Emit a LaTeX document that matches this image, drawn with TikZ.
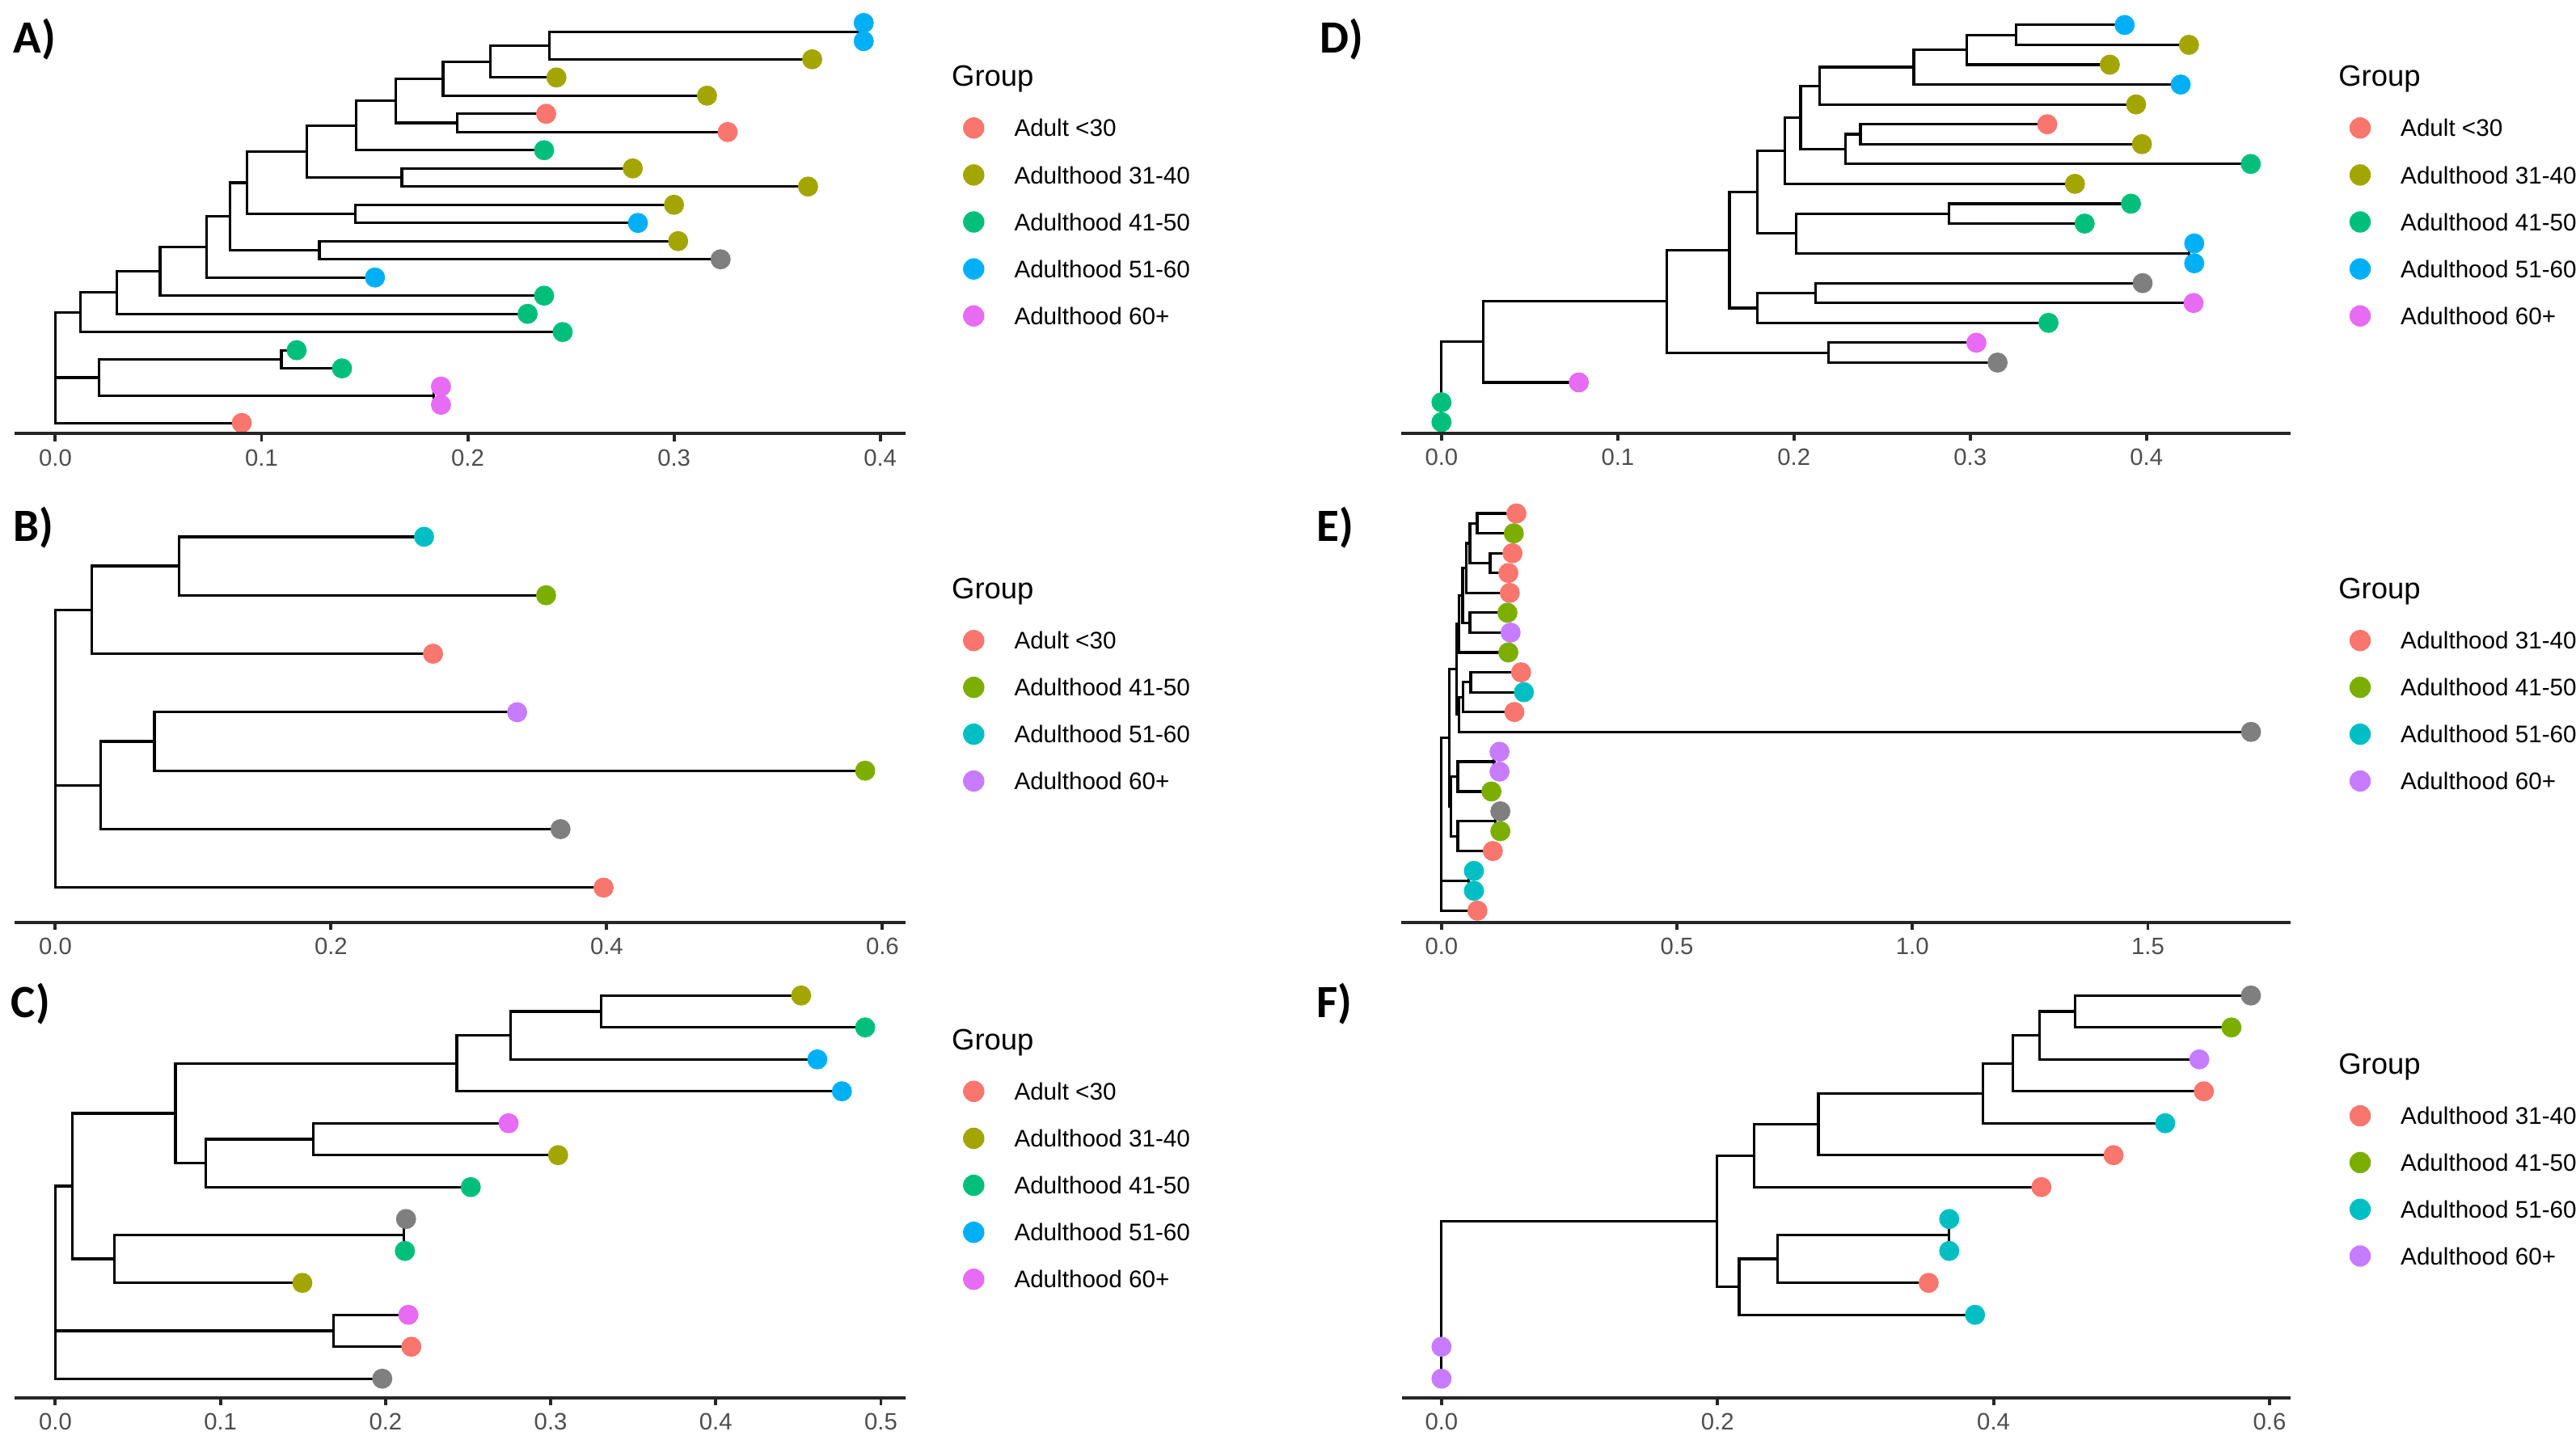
\documentclass[tikz,border=0pt]{standalone}
\usepackage{fontspec}
\setmainfont{Liberation Sans}
\newfontfamily\panelfont{Carlito}
\usetikzlibrary{positioning}

\definecolor{cRed}{HTML}{F8766D}
\definecolor{cOlive}{HTML}{A3A500}
\definecolor{cGreen}{HTML}{00BF7D}
\definecolor{cBlue}{HTML}{00B0F6}
\definecolor{cPink}{HTML}{E76BF3}
\definecolor{cLime}{HTML}{7CAE00}
\definecolor{cCyan}{HTML}{00BFC4}
\definecolor{cViolet}{HTML}{C77CFF}
\definecolor{cNA}{HTML}{7F7F7F}
\definecolor{tickgrey}{HTML}{4D4D4D}

\begin{document}
\begin{tikzpicture}[x=0.02cm, y=-0.02cm,
  branch/.style = {line width=0.9pt, black},
  axisline/.style = {line width=1.1pt, black!85},
  leafdot/.style = {circle, fill=#1, inner sep=0pt, minimum size=0.245cm},
  legdot/.style = {circle, fill=#1, inner sep=0pt, minimum size=0.26cm},
  ticklab/.style = {anchor=base, yshift=-0.39cm, inner sep=0pt, text=tickgrey, font=\fontsize{8.2}{10}\selectfont},
  legtitle/.style = {anchor=base west, inner sep=0pt, font=\fontsize{10.2}{12}\selectfont},
  legtext/.style = {inner sep=0pt, font=\fontsize{8.3}{10}\selectfont},
  panellab/.style = {anchor=base west, inner sep=0pt, font=\panelfont\bfseries\fontsize{16}{18}\selectfont}]
\useasboundingbox (0,0) rectangle (1568,878.5);

% panel letters
\node[panellab] (labA) at (7.8,32.2) {A)};
\node[panellab] (labB) at (7.8,329.5) {B)};
\node[panellab] (labC) at (6.5,619.2) {C)};
\node[panellab] (labD) at (803.1,32.2) {D)};
\node[panellab] (labE) at (801.1,329.5) {E)};
\node[panellab] (labF) at (801.1,619.2) {F)};

% A) tree
\begin{scope}[shift={(0.674cm,-0.0576cm)}, x=25.11cm, y=-0.2214cm]
\def\leavesA{1/0.392/cBlue, 2/0.392/cBlue, 3/0.367/cOlive, 4/0.243/cOlive, 5/0.316/cOlive, 6/0.238/cRed, 7/0.326/cRed, 8/0.237/cGreen, 9/0.280/cOlive, 10/0.365/cOlive, 11/0.300/cOlive, 12/0.2825/cBlue, 13/0.302/cOlive, 14/0.3226/cNA, 15/0.155/cBlue, 16/0.237/cGreen, 17/0.229/cGreen, 18/0.246/cGreen, 19/0.117/cGreen, 20/0.139/cGreen, 21/0.187/cPink, 22/0.187/cPink, 23/0.0904/cRed}
\foreach \n/\x/\col in \leavesA \coordinate (a\n) at (\x,\n);
\foreach \n/\x/\y in {n1/0.390/1.5, n2/0.2395/2.25, n3/0.211/3.125, n4/0.188/4.0625, n5/0.195/6.5, n6/0.165/5.281, n7/0.146/6.641, n8/0.168/9.5, n9/0.122/8.070, n10/0.1455/11.5, n11/0.093/9.785, n12/0.128/13.5, n13/0.0847/11.643, n14/0.0734/13.321, n15/0.0508/14.661, n16/0.0297/15.830, n17/0.0121/16.915, n18/0.1096/19.5, n19/0.1836/21.5, n20/0.0212/20.5, root/0/20.14}
  \coordinate (a\n) at (\x,\y);
\foreach \p/\c in {root/n17, root/n20, root/23, n17/n16, n17/18, n16/n15, n16/17, n15/n14, n15/16, n14/n13, n14/15, n13/n11, n13/n12, n12/13, n12/14, n11/n9, n11/n10, n10/11, n10/12, n9/n7, n9/n8, n8/9, n8/10, n7/n6, n7/8, n6/n4, n6/n5, n5/6, n5/7, n4/n3, n4/5, n3/n2, n3/4, n2/n1, n2/3, n1/1, n1/2, n20/n18, n20/n19, n18/19, n18/20, n19/21, n19/22}
  \draw[branch] (a\p) |- (a\c);
\foreach \n/\x/\col in \leavesA \node[leafdot=\col] (da\n) at (a\n) {};
\draw[axisline] (-0.0198,23.59) -- (0.4124,23.59);
\foreach \tk [count=\i] in {0.0,0.1,0.2,0.3,0.4} {
  \draw[axisline] (\tk,23.59) -- ++(0,-0.09cm);
  \node[ticklab] (tka\i) at (\tk,23.59) {\tk};
}
\end{scope}

% B) tree
\begin{scope}[shift={(0.674cm,-5.824cm)}, x=16.784cm, y=-0.712cm]
\def\leavesB{1/0.2675/cCyan, 2/0.356/cLime, 3/0.274/cRed, 4/0.335/cViolet, 5/0.5875/cLime, 6/0.3665/cNA, 7/0.3977/cRed}
\foreach \n/\x/\col in \leavesB \coordinate (b\n) at (\x,\n);
\foreach \n/\x/\y in {n1/0.090/1.5, n2/0.0262/2.25, n3/0.0719/4.5, n4/0.033/5.25, root/0/4.833}
  \coordinate (b\n) at (\x,\y);
\foreach \p/\c in {root/n2, root/n4, root/7, n2/n1, n2/3, n1/1, n1/2, n4/n3, n4/6, n3/4, n3/5}
  \draw[branch] (b\p) |- (b\c);
\foreach \n/\x/\col in \leavesB \node[leafdot=\col] (db\n) at (b\n) {};
\draw[axisline] (-0.0296,7.598) -- (0.617,7.598);
\foreach \tk [count=\i] in {0.0,0.2,0.4,0.6} {
  \draw[axisline] (\tk,7.598) -- ++(0,-0.09cm);
  \node[ticklab] (tkb\i) at (\tk,7.598) {\tk};
}
\end{scope}

% C) tree
\begin{scope}[shift={(0.674cm,-11.733cm)}, x=20.104cm, y=-0.3888cm]
\def\leavesC{1/0.4517/cOlive, 2/0.4905/cGreen, 3/0.4615/cBlue, 4/0.4764/cBlue, 5/0.2745/cPink, 6/0.3045/cOlive, 7/0.2516/cGreen, 8/0.2124/cNA, 9/0.2117/cGreen, 10/0.1496/cOlive, 11/0.2138/cPink, 12/0.2156/cRed, 13/0.198/cNA}
\foreach \n/\x/\col in \leavesC \coordinate (c\n) at (\x,\n);
\foreach \n/\x/\y in {n1/0.3306/1.5, n2/0.2756/2.25, n3/0.2431/3.125, n4/0.1563/5.5, n5/0.091/6.25, n6/0.0727/4.6875, n7/0.211/8.5, n8/0.0356/9.25, n9/0.0102/6.969, n10/0.1683/11.5, root/0/10.49}
  \coordinate (c\n) at (\x,\y);
\foreach \p/\c in {root/n9, root/n10, root/13, n9/n6, n9/n8, n6/n3, n6/n5, n3/n2, n3/4, n2/n1, n2/3, n1/1, n1/2, n5/n4, n5/7, n4/5, n4/6, n8/n7, n8/10, n7/8, n7/9, n10/11, n10/12}
  \draw[branch] (c\p) |- (c\c);
\foreach \n/\x/\col in \leavesC \node[leafdot=\col] (dc\n) at (c\n) {};
\draw[axisline] (-0.0247,13.593) -- (0.5151,13.593);
\foreach \tk [count=\i] in {0.0,0.1,0.2,0.3,0.4,0.5} {
  \draw[axisline] (\tk,13.593) -- ++(0,-0.09cm);
  \node[ticklab] (tkc\i) at (\tk,13.593) {\tk};
}
\end{scope}

% D) tree
\begin{scope}[shift={(17.552cm,-0.0622cm)}, x=21.46cm, y=-0.2418cm]
\def\leavesD{1/0.3876/cBlue, 2/0.4241/cOlive, 3/0.3792/cOlive, 4/0.4194/cBlue, 5/0.3941/cOlive, 6/0.3437/cRed, 7/0.3974/cOlive, 8/0.4592/cGreen, 9/0.3594/cOlive, 10/0.3912/cGreen, 11/0.3649/cGreen, 12/0.4271/cBlue, 13/0.4271/cBlue, 14/0.3978/cNA, 15/0.4267/cPink, 16/0.3444/cGreen, 17/0.3035/cPink, 18/0.3155/cNA, 19/0.0779/cPink, 20/0/cGreen, 21/0/cGreen}
\foreach \n/\x/\col in \leavesD \coordinate (d\n) at (\x,\n);
\foreach \n/\x/\y in {n1/0.3261/1.5, n2/0.298/2.25, n3/0.268/3.125, n4/0.2146/4.0625, n5/0.2377/6.5, n6/0.2293/7.25, n7/0.2037/5.656, n8/0.1949/7.328, n9/0.2878/10.5, n10/0.4241/12.5, n11/0.2011/11.5, n12/0.1792/9.414, n13/0.2121/14.5, n14/0.1792/15.25, n15/0.1634/12.332, n16/0.2194/17.5, n17/0.128/14.916, n18/0.0238/16.958, n19/0/20.5, root/0/18.73}
  \coordinate (d\n) at (\x,\y);
\foreach \p/\c in {root/n18, root/n19, n19/20, n19/21, n18/n17, n18/19, n17/n15, n17/n16, n16/17, n16/18, n15/n12, n15/n14, n14/n13, n14/16, n13/14, n13/15, n12/n8, n12/n11, n11/n9, n11/n10, n10/12, n10/13, n9/10, n9/11, n8/n7, n8/9, n7/n4, n7/n6, n6/n5, n6/8, n5/6, n5/7, n4/n3, n4/5, n3/n2, n3/4, n2/n1, n2/3, n1/1, n1/2}
  \draw[branch] (d\p) |- (d\c);
\foreach \n/\x/\col in \leavesD \node[leafdot=\col] (dd\n) at (d\n) {};
\draw[axisline] (-0.0227,21.57) -- (0.4819,21.57);
\foreach \tk [count=\i] in {0.0,0.1,0.2,0.3,0.4} {
  \draw[axisline] (\tk,21.57) -- ++(0,-0.09cm);
  \node[ticklab] (tkd\i) at (\tk,21.57) {\tk};
}
\end{scope}

% E) tree
\begin{scope}[shift={(17.552cm,-6.0102cm)}, x=5.734cm, y=-0.2418cm]
\def\leavesE{1/0.159/cRed, 2/0.1535/cLime, 3/0.1507/cRed, 4/0.142/cRed, 5/0.145/cRed, 6/0.140/cLime, 7/0.1467/cViolet, 8/0.142/cLime, 9/0.169/cRed, 10/0.175/cCyan, 11/0.1547/cRed, 12/1.719/cNA, 13/0.1232/cViolet, 14/0.1232/cViolet, 15/0.106/cLime, 16/0.125/cNA, 17/0.125/cLime, 18/0.109/cRed, 19/0.0689/cCyan, 20/0.0689/cCyan, 21/0.0763/cRed}
\foreach \n/\x/\col in \leavesE \coordinate (e\n) at (\x,\n);
\foreach \n/\x/\y in {n1/0.0757/1.5, n2/0.1032/3.5, n3/0.0603/2.5, n4/0.052/3.75, n5/0.0603/6.5, n6/0.0449/5.125, n7/0.0374/6.5625, n8/0.0621/9.5, n9/0.046/10.25, n10/0.0374/11.125, n11/0.0317/8.844, n12/0.1118/13.5, n13/0.0345/14.25, n14/0.1147/16.5, n15/0.0345/17.25, n16/0.0203/15.75, n17/0.0163/12.297, n18/0.0575/19.5, root/0/17.6}
  \coordinate (e\n) at (\x,\y);
\foreach \p/\c in {root/n17, root/n18, root/21, n18/19, n18/20, n17/n11, n17/n16, n16/n13, n16/n15, n15/n14, n15/18, n14/16, n14/17, n13/n12, n13/15, n12/13, n12/14, n11/n7, n11/n10, n10/n9, n10/12, n9/n8, n9/11, n8/9, n8/10, n7/n6, n7/8, n6/n4, n6/n5, n5/6, n5/7, n4/n3, n4/5, n3/n1, n3/n2, n2/3, n2/4, n1/1, n1/2}
  \draw[branch] (e\p) |- (e\c);
\foreach \n/\x/\col in \leavesE \node[leafdot=\col] (de\n) at (e\n) {};
\draw[axisline] (-0.0848,21.60) -- (1.8036,21.60);
\foreach \tk [count=\i] in {0.0,0.5,1.0,1.5} {
  \draw[axisline] (\tk,21.60) -- ++(0,-0.09cm);
  \node[ticklab] (tke\i) at (\tk,21.60) {\tk};
}
\end{scope}

% F) tree
\begin{scope}[shift={(17.552cm,-11.733cm)}, x=16.804cm, y=-0.3888cm]
\def\leavesF{1/0.5865/cNA, 2/0.5724/cLime, 3/0.5491/cViolet, 4/0.5524/cRed, 5/0.5244/cCyan, 6/0.487/cRed, 7/0.4347/cRed, 8/0.3679/cCyan, 9/0.3679/cCyan, 10/0.353/cRed, 11/0.3866/cCyan, 12/0/cViolet, 13/0/cViolet}
\foreach \n/\x/\col in \leavesF \coordinate (f\n) at (\x,\n);
\foreach \n/\x/\y in {n1/0.459/1.5, n2/0.4333/2.25, n3/0.4142/3.125, n4/0.3922/4.0625, n5/0.2731/5.03, n6/0.2265/6.016, n7/0.3675/8.5, n8/0.2437/9.25, n9/0.2157/10.125, n10/0.1994/8.07, n11/0/12.5, root/0/10.29}
  \coordinate (f\n) at (\x,\y);
\foreach \p/\c in {root/n10, root/n11, n11/12, n11/13, n10/n6, n10/n9, n9/n8, n9/11, n8/n7, n8/10, n7/8, n7/9, n6/n5, n6/7, n5/n4, n5/6, n4/n3, n4/5, n3/n2, n3/4, n2/n1, n2/3, n1/1, n1/2}
  \draw[branch] (f\p) |- (f\c);
\foreach \n/\x/\col in \leavesF \node[leafdot=\col] (df\n) at (f\n) {};
\draw[axisline] (-0.0289,13.593) -- (0.6154,13.593);
\foreach \tk [count=\i] in {0.0,0.2,0.4,0.6} {
  \draw[axisline] (\tk,13.593) -- ++(0,-0.09cm);
  \node[ticklab] (tkf\i) at (\tk,13.593) {\tk};
}
\end{scope}

% legends
\node[legtitle] (grpA) at (579,52.5) {Group};
\foreach \col/\lab [count=\i] in {cRed/Adult <30, cOlive/Adulthood 31-40, cGreen/Adulthood 41-50, cBlue/Adulthood 51-60, cPink/Adulthood 60+} {
  \node[legdot=\col] (keyA\i) at (592.7,{77.9+28.6*(\i-1)}) {};
  \node[legtext, right=0.35cm of keyA\i] (txtA\i) {\lab};
}
\node[legtitle] (grpB) at (579,364.6) {Group};
\foreach \col/\lab [count=\i] in {cRed/Adult <30, cLime/Adulthood 41-50, cCyan/Adulthood 51-60, cViolet/Adulthood 60+} {
  \node[legdot=\col] (keyB\i) at (592.7,{389.9+28.5*(\i-1)}) {};
  \node[legtext, right=0.35cm of keyB\i] (txtB\i) {\lab};
}
\node[legtitle] (grpC) at (579,639) {Group};
\foreach \col/\lab [count=\i] in {cRed/Adult <30, cOlive/Adulthood 31-40, cGreen/Adulthood 41-50, cBlue/Adulthood 51-60, cPink/Adulthood 60+} {
  \node[legdot=\col] (keyC\i) at (592.7,{664.3+28.6*(\i-1)}) {};
  \node[legtext, right=0.35cm of keyC\i] (txtC\i) {\lab};
}
\node[legtitle] (grpD) at (1423.1,52.5) {Group};
\foreach \col/\lab [count=\i] in {cRed/Adult <30, cOlive/Adulthood 31-40, cGreen/Adulthood 41-50, cBlue/Adulthood 51-60, cPink/Adulthood 60+} {
  \node[legdot=\col] (keyD\i) at (1436.6,{77.9+28.6*(\i-1)}) {};
  \node[legtext, right=0.35cm of keyD\i] (txtD\i) {\lab};
}
\node[legtitle] (grpE) at (1423.1,364.6) {Group};
\foreach \col/\lab [count=\i] in {cRed/Adulthood 31-40, cLime/Adulthood 41-50, cCyan/Adulthood 51-60, cViolet/Adulthood 60+} {
  \node[legdot=\col] (keyE\i) at (1436.6,{389.9+28.5*(\i-1)}) {};
  \node[legtext, right=0.35cm of keyE\i] (txtE\i) {\lab};
}
\node[legtitle] (grpF) at (1423.1,653.9) {Group};
\foreach \col/\lab [count=\i] in {cRed/Adulthood 31-40, cLime/Adulthood 41-50, cCyan/Adulthood 51-60, cViolet/Adulthood 60+} {
  \node[legdot=\col] (keyF\i) at (1436.6,{679.2+28.45*(\i-1)}) {};
  \node[legtext, right=0.35cm of keyF\i] (txtF\i) {\lab};
}

\end{tikzpicture}
\end{document}
